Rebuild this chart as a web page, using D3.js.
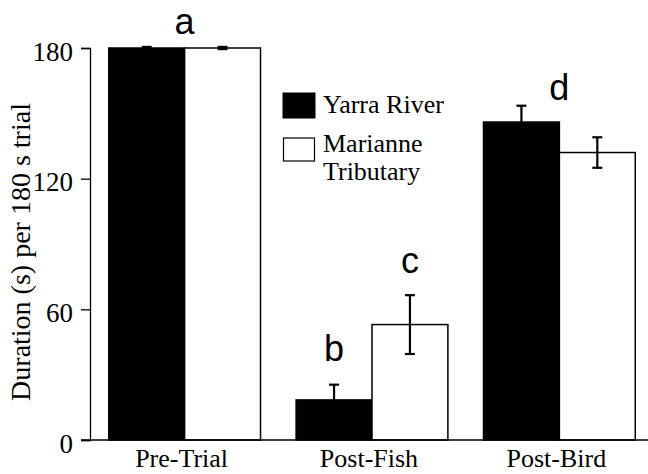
<!DOCTYPE html>
<html>
<head>
<meta charset="utf-8">
<title>Duration per trial</title>
<script src="https://d3js.org/d3.v7.min.js"></script>
<style>
  body { margin: 0; background: #fff; }
  svg text { font-family: "Liberation Serif", "Times New Roman", serif; fill: #000; }
  .letter { font-family: "Liberation Sans", Arial, sans-serif; }
</style>
</head>
<body>
<div id="chart"></div>
<script>
// values
var categories = ["Pre-Trial", "Post-Fish", "Post-Bird"];
var seriesNames = ["Yarra River", "Marianne Tributary"];
var yarraMeans = [180, 18.4, 146];
var yarraErr = [0.5, 7, 7.5];
var marianneMeans = [180, 53, 132];
var marianneErr = [0.5, 13.5, 7];
var yTicks = [0, 60, 120, 180];
// significance letters: text, category, series (null = whole group), height
var letterText = ["a", "b", "c", "d"];
var letterCat = ["Pre-Trial", "Post-Fish", "Post-Fish", "Post-Bird"];
var letterSeries = [null, "Yarra River", "Marianne Tributary", null];
var letterAt = [186.5, 36.5, 76.5, 156];

var W = 648, H = 474;
var svg = d3.select("#chart").append("svg").attr("width", W).attr("height", H);

var x = d3.scaleBand().domain(categories).range([90, 654])
    .paddingInner(0.19).paddingOuter(0.1);
var xs = d3.scaleBand().domain(seriesNames).range([0, x.bandwidth()]);
var y = d3.scaleLinear().domain([0, 180]).range([440, 48]);

var rows = [];
categories.forEach(function(c, i) {
  rows.push({cat: c, s: seriesNames[0], v: yarraMeans[i], e: yarraErr[i], fill: "#000"});
  rows.push({cat: c, s: seriesNames[1], v: marianneMeans[i], e: marianneErr[i], fill: "#fff"});
});

// bars
svg.append("g").selectAll("rect").data(rows).enter().append("rect")
  .attr("x", function(d) { return x(d.cat) + xs(d.s); })
  .attr("y", function(d) { return y(d.v); })
  .attr("width", xs.bandwidth())
  .attr("height", function(d) { return y(0) - y(d.v); })
  .attr("fill", function(d) { return d.fill; })
  .attr("stroke", "#000").attr("stroke-width", 1.5);

// error bars
var eb = svg.append("g").attr("stroke", "#000").attr("stroke-width", 2.2);
rows.forEach(function(d) {
  var cx = x(d.cat) + xs(d.s) + xs.bandwidth() / 2;
  eb.append("line").attr("x1", cx).attr("x2", cx).attr("y1", y(d.v + d.e)).attr("y2", y(d.v - d.e));
  [d.v + d.e, d.v - d.e].forEach(function(t) {
    eb.append("line").attr("x1", cx - 5).attr("x2", cx + 5).attr("y1", y(t)).attr("y2", y(t));
  });
});

// y axis
var yAxis = svg.append("g").attr("transform", "translate(90,0)")
  .call(d3.axisLeft(y).tickValues(yTicks).tickSize(9).tickPadding(8).tickFormat(d3.format("d")));
yAxis.select(".domain").attr("stroke-width", 1.3);
yAxis.selectAll(".tick line").attr("stroke-width", 1.3);
yAxis.selectAll("text").attr("font-size", 27).attr("dy", "0.45em");

// baseline
svg.append("line").attr("x1", 81).attr("x2", W).attr("y1", y(0)).attr("y2", y(0))
  .attr("stroke", "#000").attr("stroke-width", 1.3);

// category labels
svg.append("g").selectAll("text").data(categories).enter().append("text")
  .attr("x", function(d) { return x(d) + x.bandwidth() / 2 - 3; })
  .attr("y", 467).attr("text-anchor", "middle").attr("font-size", 26)
  .text(function(d) { return d; });

// y title
svg.append("text").attr("transform", "translate(30,252) rotate(-90)")
  .attr("text-anchor", "middle").attr("font-size", 28)
  .text("Duration (s) per 180 s trial");

// letters
svg.append("g").selectAll("text").data(letterText).enter().append("text")
  .attr("class", "letter")
  .attr("x", function(d, i) {
    var c = letterCat[i];
    if (letterSeries[i] === null) return x(c) + x.bandwidth() / 2;
    return x(c) + xs(letterSeries[i]) + xs.bandwidth() / 2;
  })
  .attr("y", function(d, i) { return y(letterAt[i]); })
  .attr("text-anchor", "middle").attr("font-size", 36)
  .text(function(d) { return d; });

// legend
var lg = svg.append("g").attr("transform", "translate(283,93)");
lg.append("rect").attr("x", 0).attr("y", 0).attr("width", 32).attr("height", 25)
  .attr("fill", "#000").attr("stroke", "#000");
lg.append("rect").attr("x", 0.5).attr("y", 45).attr("width", 31).attr("height", 23)
  .attr("fill", "#fff").attr("stroke", "#000").attr("stroke-width", 1.2);
lg.append("text").attr("x", 40).attr("y", 20).attr("font-size", 26).text(seriesNames[0]);
var mt = lg.append("text").attr("x", 40).attr("y", 59).attr("font-size", 26);
mt.append("tspan").attr("x", 40).text("Marianne");
mt.append("tspan").attr("x", 40).attr("dy", 28).text("Tributary");
</script>
</body>
</html>
